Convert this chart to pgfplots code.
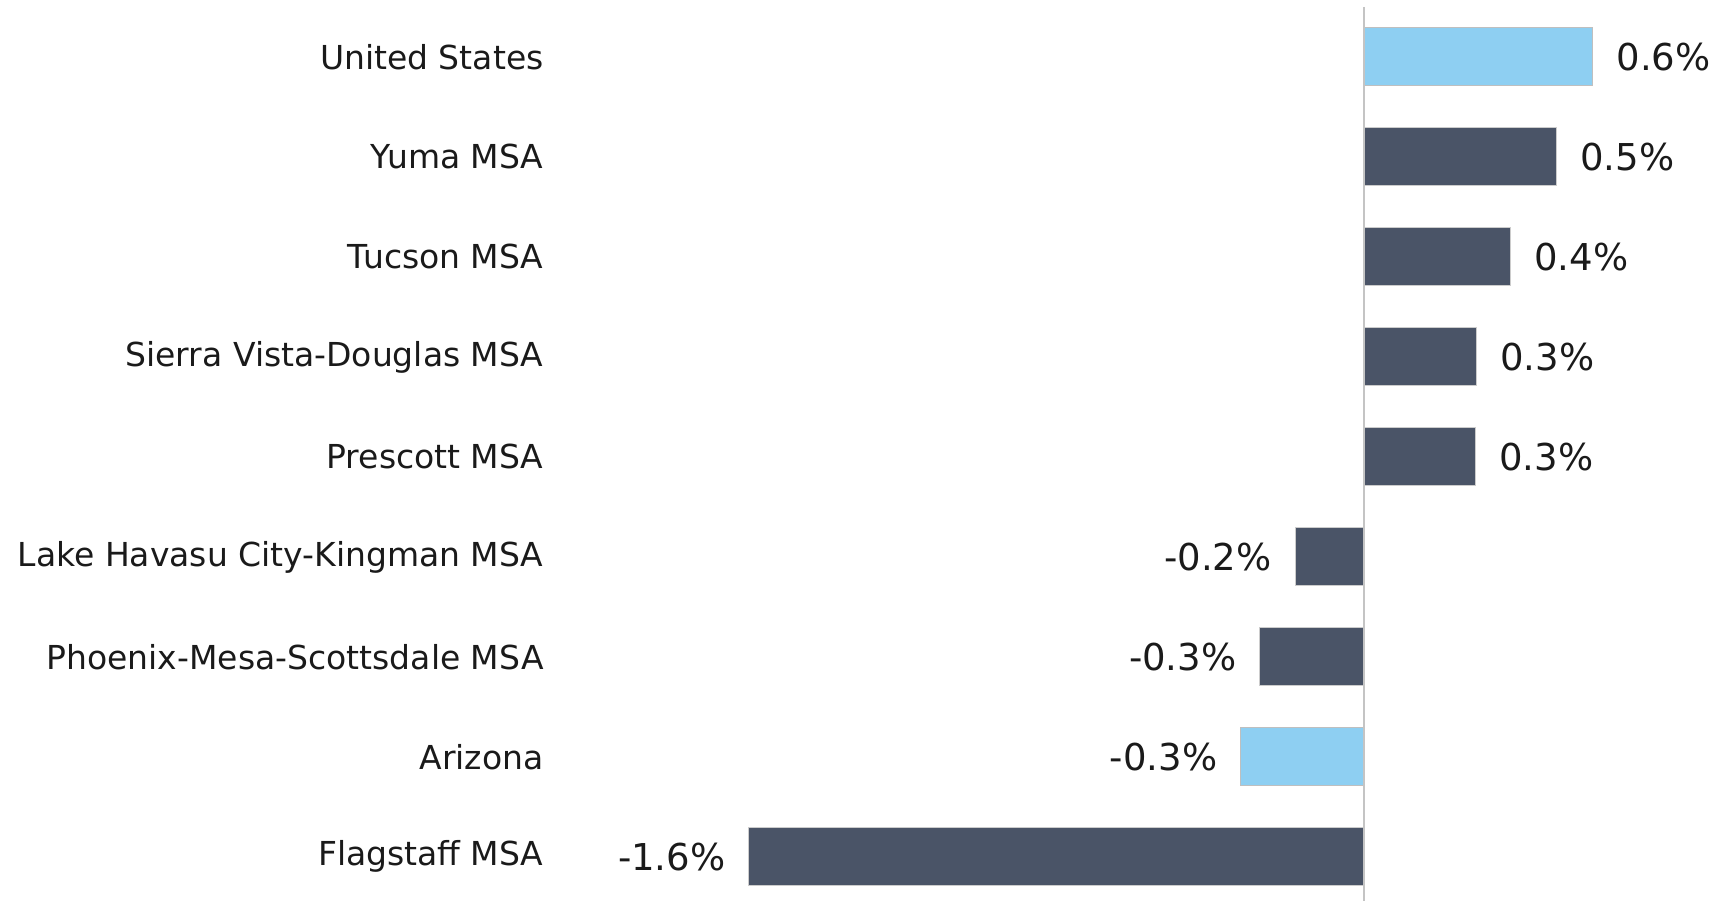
\documentclass[border=0pt]{standalone}
\usepackage{pgfplots}
\pgfplotsset{compat=1.18}
\usepackage{fontspec}
\setmainfont{DejaVu Sans}
\definecolor{darkbar}{HTML}{4A5467}
\definecolor{lightbar}{HTML}{8ECFF2}
\definecolor{zeroline}{HTML}{C4C4C4}
\definecolor{txt}{HTML}{1A1A1A}
\begin{document}
\begin{tikzpicture}
\begin{axis}[
  xbar, bar shift=0pt, bar width=29pt,
  scale only axis, width=588.5pt, height=450.5pt,
  xmin=-2.1466, xmax=0.9346, ymin=-0.44, ymax=8.57,
  hide x axis,
  y axis line style={draw=none},
  major tick length=0pt,
  ytick={0,1,2,3,4,5,6,7,8},
  yticklabels={Flagstaff MSA,Arizona,Phoenix-Mesa-Scottsdale MSA,Lake Havasu City-Kingman MSA,Prescott MSA,Sierra Vista-Douglas MSA,Tucson MSA,Yuma MSA,United States},
  yticklabel style={anchor=east, inner sep=0pt, text=txt, font=\fontsize{16.5}{20}\selectfont},
  point meta=explicit symbolic,
  nodes near coords,
  every node near coord/.append style={text=txt, font=\fontsize{18.5}{22}\selectfont, inner sep=0pt},
  clip=false,
]
\addplot[fill=lightbar, draw=gray!50, line width=0.5pt,
  every node near coord/.append style={anchor=west, xshift=11.5pt}]
  coordinates {(0.600,8) [0.6\%]};
\addplot[fill=darkbar, draw=gray!40, line width=0.5pt,
  every node near coord/.append style={anchor=west, xshift=11.5pt}]
  coordinates {(0.505,7) [0.5\%] (0.385,6) [0.4\%] (0.296,5) [0.3\%] (0.293,4) [0.3\%]};
\addplot[fill=darkbar, draw=gray!40, line width=0.5pt,
  every node near coord/.append style={anchor=east, xshift=-11.5pt}]
  coordinates {(-0.180,3) [-0.2\%] (-0.272,2) [-0.3\%] (-1.610,0) [-1.6\%]};
\addplot[fill=lightbar, draw=gray!50, line width=0.5pt,
  every node near coord/.append style={anchor=east, xshift=-11.5pt}]
  coordinates {(-0.322,1) [-0.3\%]};
\draw[zeroline, line width=1.3pt] (axis cs:0,8.5) -- (axis cs:0,-0.44);
\end{axis}
\path (current axis.south west) ++(-272pt,0);
\end{tikzpicture}
\end{document}
